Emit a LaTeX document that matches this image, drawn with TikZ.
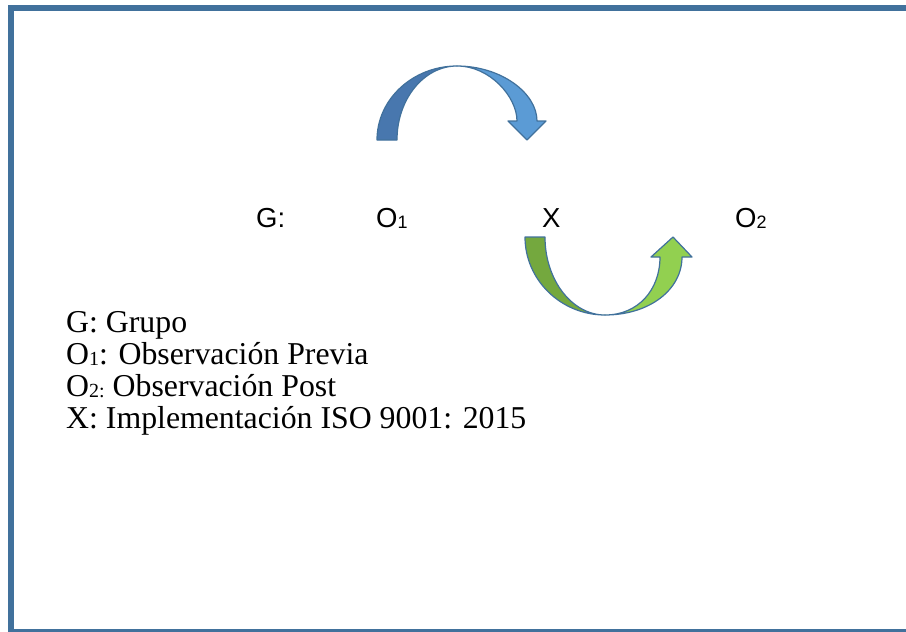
\documentclass[tikz,border=0pt]{standalone}
\usepackage{fontspec}
\setmainfont{Liberation Serif}
\newfontfamily\arialfont{Liberation Sans}
\usepackage{tikz}
\usetikzlibrary{positioning}
\definecolor{frameblue}{HTML}{41719C}
\definecolor{arrowline}{HTML}{41719C}
\definecolor{bluedark}{HTML}{4877AE}
\definecolor{bluelight}{HTML}{5B9BD5}
\definecolor{greendark}{HTML}{74A83E}
\definecolor{greenlight}{HTML}{92D050}
\newcommand{\sansub}[1]{\raisebox{-1.5pt}{\fontsize{18}{18}\selectfont #1}}
\newcommand{\serifsub}[1]{\raisebox{-1pt}{\fontsize{20}{20}\selectfont #1}}
\tikzset{
  sanslabel/.style={anchor=base west, inner sep=0pt, font=\arialfont\fontsize{27.5}{33}\selectfont},
  keyline/.style={anchor=base west, inner sep=0pt, font=\fontsize{31.8}{31.8}\selectfont},
  bentarrow/.style={draw=arrowline, line width=1.2pt, line join=round}
}

\begin{document}
\begin{tikzpicture}[x=1pt,y=-1pt]
\useasboundingbox (0,0) rectangle (906,632);

% Frame (open on the right)
\draw[line width=6pt, frameblue] (906,7.5) -- (11,7.5) -- (11,632);
\draw[line width=3pt, frameblue] (8,630.5) -- (906,630.5);

% Curved arrow O1 -> X
\filldraw[bentarrow, fill=bluedark] (377,140) .. controls (377,99) and (413,66) .. (457,66)
  .. controls (424,66) and (397,99) .. (397,140) -- cycle;
\filldraw[bentarrow, fill=bluelight] (457,66) .. controls (501,66) and (537,93) .. (537,121)
  -- (546,121) -- (527,140) -- (508,121) -- (517,121)
  .. controls (517,97) and (490,66) .. (457,66) -- cycle;

% Curved arrow X -> O2
\filldraw[bentarrow, fill=greendark] (525,237) .. controls (525,280) and (561,315) .. (605,315)
  .. controls (572,315) and (545,280) .. (545,237) -- cycle;
\filldraw[bentarrow, fill=greenlight] (605,315) .. controls (649,315) and (682,290) .. (682,257)
  -- (692,257) -- (673,237) -- (651,257) -- (660,257)
  .. controls (660,290) and (638,315) .. (605,315) -- cycle;

% Design
\node[sanslabel] (g) at (256,227) {G:};
\node[sanslabel] (o1) at (376,227) {O\sansub{1}};
\node[sanslabel] (x) at (542,227) {X};
\node[sanslabel] (o2) at (735,227) {O\sansub{2}};

% Key
\node[keyline] (kg) at (66,332.7) {G: Grupo};
\node[keyline] (ko1) at (66,364.5) {O\serifsub{1}: Observación Previa};
\node[keyline] (ko2) at (66,396.3) {O\serifsub{2:} Observación Post};
\node[keyline] (kx) at (66,428.1) {X: Implementación ISO 9001: 2015};
\end{tikzpicture}
\end{document}
